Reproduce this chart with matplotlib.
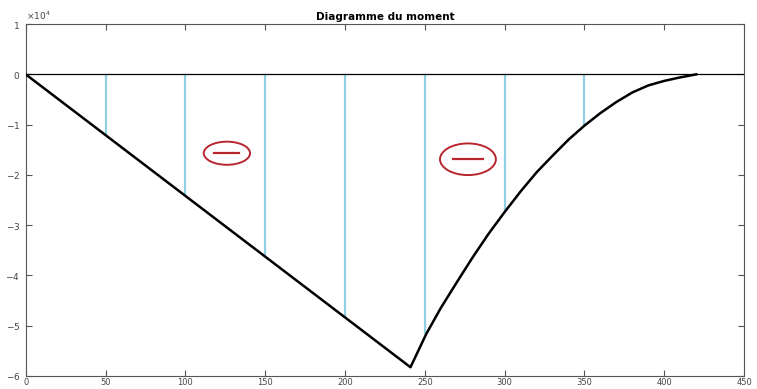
import numpy as np
import matplotlib
matplotlib.use("Agg")
import matplotlib.pyplot as plt
from matplotlib.patches import Ellipse

plt.rcParams["axes.unicode_minus"] = False

# moment diagram (N.mm)
x_curve = [0, 241, 251, 260, 270, 280, 290, 300, 310, 320, 330, 340,
           350, 360, 370, 380, 390, 400, 410, 420]
m_curve = [0, -5.83e4, -5.16e4, -4.65e4, -4.14e4, -3.64e4, -3.17e4, -2.74e4,
           -2.33e4, -1.95e4, -1.62e4, -1.30e4, -1.02e4, -0.77e4, -0.55e4,
           -0.36e4, -0.22e4, -0.13e4, -0.06e4, 0]

# vertical hatch lines
x_stems = [50, 100, 150, 200, 250, 300, 350]
m_stems = [-1.21e4, -2.42e4, -3.62e4, -4.83e4, -5.17e4, -2.74e4, -1.02e4]

# "minus" sign markers: centre x, centre y, width, height
signs_x = [126, 277]
signs_y = [-1.57e4, -1.69e4]
signs_w = [29, 35]
signs_h = [0.46e4, 0.63e4]

x_ticks = list(range(0, 451, 50))
y_ticks = [-6e4, -5e4, -4e4, -3e4, -2e4, -1e4, 0, 1e4]

fig = plt.figure(figsize=(7.57, 3.89), dpi=100)
ax = fig.add_axes([0.034, 0.034, 0.949, 0.904])

ax.vlines(x_stems, m_stems, 0, colors="#8fd0e2", lw=1.6, zorder=1)
ax.axhline(0, color="black", lw=0.9, zorder=2)
ax.plot(x_curve, m_curve, color="black", lw=1.8, zorder=3)

red = "#b8272f"
for cx, cy, w, h in zip(signs_x, signs_y, signs_w, signs_h):
    ax.add_patch(Ellipse((cx, cy), w, h, fill=False, ec=red, lw=1.4, zorder=4))
    ax.plot([cx - w * 0.27, cx + w * 0.27], [cy, cy], color=red, lw=1.6, zorder=4)

ax.set_xlim(0, 450)
ax.set_ylim(-6e4, 1e4)
ax.set_xticks(x_ticks)
ax.set_yticks(y_ticks)
ax.ticklabel_format(axis="y", style="sci", scilimits=(0, 0), useMathText=True)
ax.yaxis.get_offset_text().set_fontsize(6.5)
ax.yaxis.get_offset_text().set_color("#555555")

ax.tick_params(direction="in", top=True, right=True, length=4, width=0.8,
               color="#555555", labelsize=6.5, labelcolor="#444444", pad=4)
ax.tick_params(axis="x", labelsize=6, pad=1.5)
for s in ax.spines.values():
    s.set_color("#555555")
    s.set_linewidth(0.8)

ax.set_title("Diagramme du moment", fontsize=7.5, fontweight="bold", pad=3)

fig.savefig("out.png", dpi=100)
